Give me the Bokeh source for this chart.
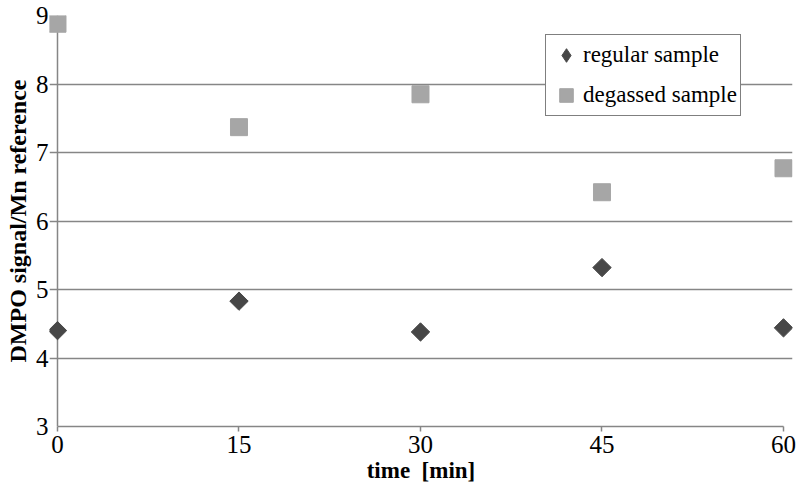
import math
from bokeh.plotting import figure
from bokeh.models import Range1d, FixedTicker, Span, ColumnDataSource, Legend, LegendItem
from bokeh.embed import file_html
from bokeh.resources import INLINE

# data
time_min = [0, 15, 30, 45, 60]
regular_sample = [4.40, 4.83, 4.38, 5.32, 4.44]
degassed_sample = [8.88, 7.37, 7.85, 6.42, 6.77]
x_ticks = [0, 15, 30, 45, 60]
y_ticks = [3, 4, 5, 6, 7, 8, 9]

GRID = "#868686"
FONT = "Liberation Serif"
DARK = "#474747"
LIGHT = "#a6a6a6"

src = ColumnDataSource(data=dict(t=time_min, reg=regular_sample, deg=degassed_sample))

p = figure(width=800, height=489, output_backend="svg", toolbar_location=None,
           x_range=Range1d(-0.661, 60.744), y_range=Range1d(3, 9),
           min_border_left=49, min_border_right=8, min_border_top=15, min_border_bottom=63)
p.outline_line_color = None
p.background_fill_color = "white"
p.border_fill_color = "white"

# y axis line at x = 0
p.add_layout(Span(location=0, dimension="height", line_color=GRID, line_width=1.5, level="underlay"))

p.scatter("t", "reg", source=src, marker="square", angle=math.pi / 4, size=13,
          fill_color=DARK, line_color=DARK)
deg_r = p.scatter("t", "deg", source=src, marker="square", size=17,
                  fill_color=LIGHT, line_color=LIGHT)
# legend-only glyph for the regular sample (diamond shape in the legend), hidden in the plot
reg_leg = p.scatter("t", "reg", source=src, marker="diamond", size=18,
                    fill_color=DARK, line_color=DARK, visible=False)

# x axis
xa = p.xaxis[0]
xa.ticker = FixedTicker(ticks=x_ticks)
xa.bounds = (0, 60)
xa.axis_line_color = GRID
xa.axis_line_width = 1.5
xa.major_tick_line_color = GRID
xa.major_tick_line_width = 1.5
xa.major_tick_out = 5
xa.major_tick_in = 0
xa.minor_tick_line_color = None
xa.major_label_standoff = 4
xa.major_label_text_font = FONT
xa.major_label_text_font_size = "25px"
xa.major_label_text_color = "black"
xa.axis_label = "time \u00a0[min]"
xa.axis_label_standoff = 2
xa.axis_label_text_font = FONT
xa.axis_label_text_font_size = "23px"
xa.axis_label_text_font_style = "bold"
xa.axis_label_text_color = "black"

# y axis
ya = p.yaxis[0]
ya.ticker = FixedTicker(ticks=y_ticks)
ya.axis_line_color = None
ya.major_tick_line_color = None
ya.minor_tick_line_color = None
ya.major_tick_out = 0
ya.major_tick_in = 0
ya.major_label_standoff = 1
ya.major_label_text_font = FONT
ya.major_label_text_font_size = "25px"
ya.major_label_text_color = "black"
ya.axis_label = "DMPO signal/Mn reference"
ya.axis_label_standoff = 2
ya.axis_label_text_font = FONT
ya.axis_label_text_font_size = "24px"
ya.axis_label_text_font_style = "bold"
ya.axis_label_text_color = "black"

p.xgrid.grid_line_color = None
p.ygrid.grid_line_color = GRID
p.ygrid.grid_line_width = 1.5

leg = Legend(items=[LegendItem(label="regular sample", renderers=[reg_leg]),
                    LegendItem(label="degassed sample", renderers=[deg_r])],
             location=(496, 310), margin=0, click_policy="none",
             border_line_color="black", border_line_width=1.5,
             background_fill_color="white", background_fill_alpha=1,
             label_text_font=FONT, label_text_font_size="23px", label_text_color="black",
             glyph_width=34, glyph_height=34, spacing=6, padding=3, label_standoff=0)
p.add_layout(leg)

open("out.html", "w").write(file_html(p, INLINE))
